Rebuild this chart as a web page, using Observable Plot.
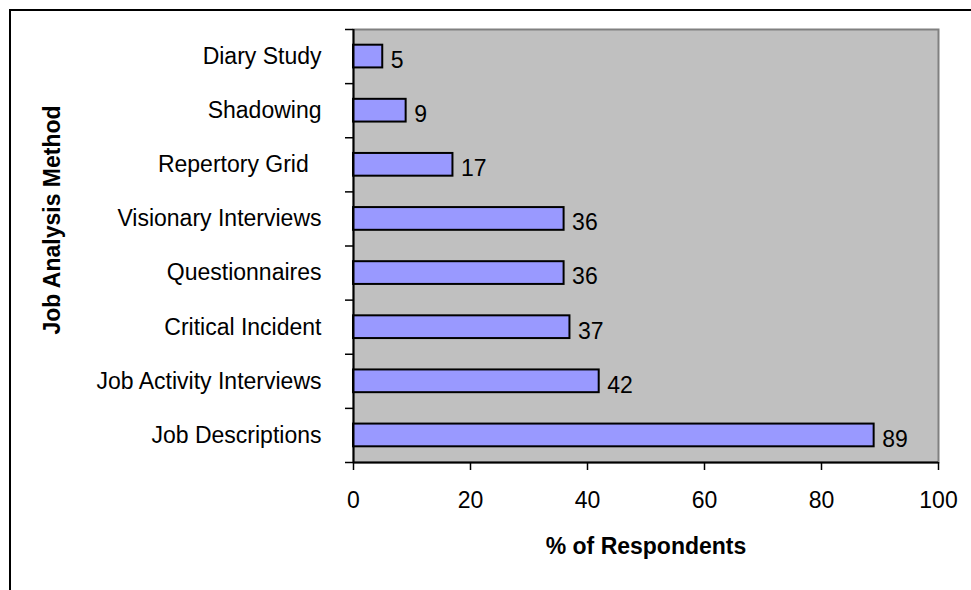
<!DOCTYPE html>
<html>
<head>
<meta charset="utf-8">
<script src="https://cdn.jsdelivr.net/npm/d3@7"></script>
<script src="https://cdn.jsdelivr.net/npm/@observablehq/plot@0.6"></script>
<style>
  html, body { margin: 0; padding: 0; background: #fff; overflow: hidden; }
  #wrap { position: relative; width: 971px; height: 590px; overflow: hidden; }
  #border { position: absolute; left: 9px; top: 9px; width: 1000px; height: 700px;
            border: 2px solid #000; box-sizing: border-box; pointer-events: none; }
  #chart { position: absolute; left: 0; top: 0; }
</style>
</head>
<body>
<div id="wrap">
  <div id="chart"></div>
  <div id="border"></div>
</div>
<script>
// Job analysis methods, listed from the bottom row to the top row
const methods = [
  "Job Descriptions",
  "Job Activity Interviews",
  "Critical Incident",
  "Questionnaires",
  "Visionary Interviews",
  "Repertory Grid\u00A0\u00A0",
  "Shadowing",
  "Diary Study"
];
// Share of respondents using each method (%)
const percents = [89, 42, 37, 36, 36, 17, 9, 5];
// Value axis ticks
const xTicks = [0, 20, 40, 60, 80, 100];

// Each category occupies one unit slot on the vertical scale; bars sit at the slot centre
const rows = methods.map((method, i) => ({method, value: percents[i], pos: i + 0.5}));
const slotEdges = d3.range(0, methods.length + 1);
const halfBar = 0.21; // half of the bar thickness, in slot units

const font = "'Liberation Sans', Arial, sans-serif";

const chart = Plot.plot({
  width: 971,
  height: 590,
  marginLeft: 353,
  marginRight: 33,
  marginTop: 29,
  marginBottom: 128,
  style: {fontFamily: font, fontSize: "23px", color: "#000", background: "#fff"},
  x: {domain: [0, 100]},
  y: {domain: [0, methods.length]},
  marks: [
    Plot.frame({fill: "#C0C0C0", stroke: "#808080", strokeWidth: 2}),
    Plot.rect(rows, {
      x1: 0, x2: "value",
      y1: d => d.pos - halfBar, y2: d => d.pos + halfBar,
      fill: "#9999FF", stroke: "#000", strokeWidth: 2
    }),
    Plot.ruleX([0], {stroke: "#000", strokeWidth: 2}),
    Plot.ruleY([0], {stroke: "#000", strokeWidth: 2}),
    // tick marks between categories
    Plot.axisY(slotEdges, {tickSize: 8, tickFormat: () => "", label: null, strokeWidth: 1.5}),
    // category names
    Plot.axisY(rows.map(d => d.pos), {
      tickSize: 0, tickPadding: 32, label: null, fontSize: 23,
      tickFormat: v => methods[Math.floor(v)]
    }),
    Plot.axisX(xTicks, {tickSize: 8, tickPadding: 21, label: null, fontSize: 23, strokeWidth: 1.5}),
    // value labels
    Plot.text(rows, {
      x: "value", y: "pos", text: d => String(d.value),
      textAnchor: "start", dx: 8, dy: 4, fontSize: 23
    }),
    // axis titles
    Plot.text(["% of Respondents"], {
      frameAnchor: "bottom", dy: 91, fontSize: 23, fontWeight: "bold"
    }),
    Plot.text(["Job Analysis Method"], {
      frameAnchor: "left", textAnchor: "middle", dx: -301, dy: -26, rotate: -90,
      fontSize: 23, fontWeight: "bold"
    })
  ]
});

document.getElementById("chart").append(chart);
</script>
</body>
</html>
